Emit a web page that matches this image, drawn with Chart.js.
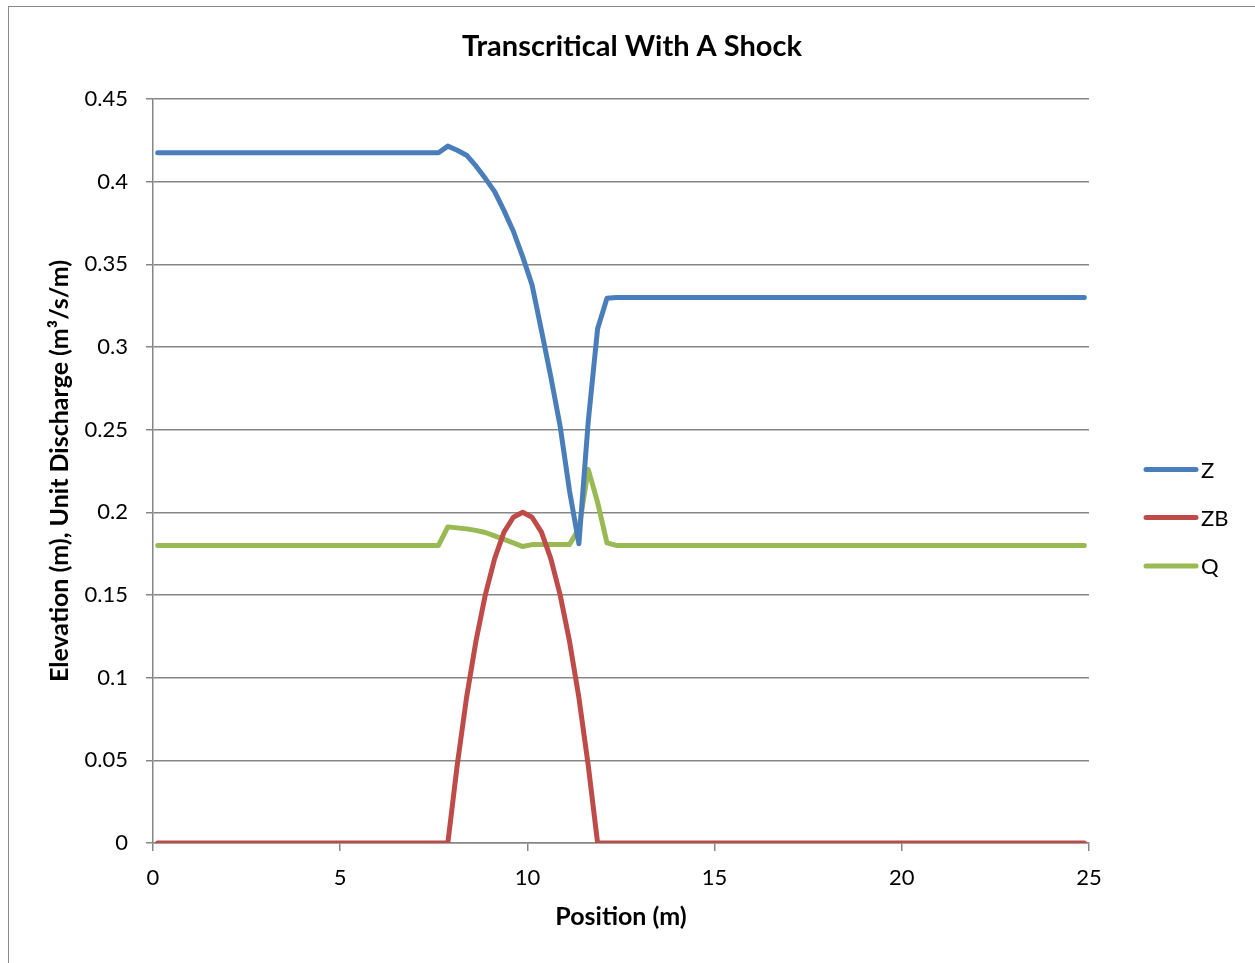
<!DOCTYPE html>
<html>
<head>
<meta charset="utf-8">
<title>Transcritical With A Shock</title>
<script src="https://cdn.jsdelivr.net/npm/chart.js@4.4.1/dist/chart.umd.min.js"></script>
<style>
  html, body { margin: 0; padding: 0; background: #ffffff; }
  #chart { display: block; }
</style>
</head>
<body>
<canvas id="chart" width="1255" height="963"></canvas>
<script>
// Free surface elevation Z, bed elevation ZB and unit discharge Q along the channel.
const zPosition = [0.125, 7.625, 7.875, 8.125, 8.375, 8.625, 8.875, 9.125, 9.375, 9.625, 9.875,
                   10.125, 10.375, 10.625, 10.875, 11.125, 11.375, 11.625, 11.875, 12.125, 12.375, 24.875];
const zValues   = [0.4175, 0.4175, 0.4215, 0.4190, 0.4160, 0.4095, 0.4020, 0.3940, 0.3825, 0.3700, 0.3545,
                   0.3375, 0.3100, 0.2820, 0.2520, 0.2130, 0.1810, 0.2550, 0.3110, 0.3295, 0.3300, 0.3300];

const zbPosition = [0.125, 7.875, 8.125, 8.375, 8.625, 8.875, 9.125, 9.375, 9.625, 9.875,
                    10.125, 10.375, 10.625, 10.875, 11.125, 11.375, 11.625, 11.875, 24.875];
const zbValues   = [0, 0, 0.047, 0.088, 0.122, 0.150, 0.172, 0.188, 0.197, 0.200,
                    0.197, 0.188, 0.172, 0.150, 0.122, 0.088, 0.047, 0, 0];

const qPosition = [0.125, 7.625, 7.875, 8.125, 8.375, 8.625, 8.875, 9.125, 9.375, 9.625, 9.875,
                   10.125, 11.125, 11.375, 11.625, 11.875, 12.125, 12.375, 24.875];
const qValues   = [0.180, 0.180, 0.1912, 0.1906, 0.1900, 0.1891, 0.1878, 0.1858, 0.1836, 0.1815, 0.1793,
                   0.1805, 0.1805, 0.1900, 0.2260, 0.2060, 0.1815, 0.1800, 0.180];

const xTicks = [0, 5, 10, 15, 20, 25];
const yTicks = [0, 0.05, 0.1, 0.15, 0.2, 0.25, 0.3, 0.35, 0.4, 0.45];

const seriesNames  = ['Z', 'ZB', 'Q'];
const seriesColors = ['#4A7EBB', '#BE4B48', '#98B954'];
const chartTitle = 'Transcritical With A Shock';

const FONT = 'Lato, "Open Sans", "Liberation Sans", sans-serif';
const GRID = '#868686';

function pairs(xs, ys) {
  return xs.map((x, i) => ({ x: x, y: ys[i] }));
}

// Title centred on the whole figure, above the plot.
const figureTitle = {
  id: 'figureTitle',
  afterDraw(chart) {
    const ctx = chart.ctx;
    ctx.save();
    ctx.fillStyle = '#000';
    ctx.font = 'bold 29px ' + FONT;
    ctx.textAlign = 'center';
    ctx.textBaseline = 'middle';
    ctx.fillText(chartTitle, 632, 47);
    ctx.restore();
  }
};

// Vertical legend on the right with short line swatches.
const lineLegend = {
  id: 'lineLegend',
  afterDraw(chart) {
    const ctx = chart.ctx;
    const rows = [469.5, 517.5, 566];
    ctx.save();
    chart.data.datasets.forEach((ds, i) => {
      const y = rows[i];
      ctx.beginPath();
      ctx.strokeStyle = ds.borderColor;
      ctx.lineWidth = 5;
      ctx.lineCap = 'round';
      ctx.moveTo(1146, y);
      ctx.lineTo(1196, y);
      ctx.stroke();
      ctx.fillStyle = '#000';
      ctx.font = '22px ' + FONT;
      ctx.textAlign = 'left';
      ctx.textBaseline = 'middle';
      ctx.fillText(ds.label, 1201, y + 1);
    });
    ctx.restore();
  }
};

// Thin frame around the whole chart.
const chartFrame = {
  id: 'chartFrame',
  afterDraw(chart) {
    const ctx = chart.ctx;
    ctx.save();
    ctx.strokeStyle = '#8a8a8a';
    ctx.lineWidth = 1;
    ctx.strokeRect(8.5, 6.5, 1400, 1100);
    ctx.restore();
  }
};

new Chart(document.getElementById('chart'), {
  type: 'scatter',
  data: {
    datasets: [
      { label: seriesNames[0], data: pairs(zPosition, zValues),   borderColor: seriesColors[0], backgroundColor: seriesColors[0] },
      { label: seriesNames[1], data: pairs(zbPosition, zbValues), borderColor: seriesColors[1], backgroundColor: seriesColors[1] },
      { label: seriesNames[2], data: pairs(qPosition, qValues),   borderColor: seriesColors[2], backgroundColor: seriesColors[2] }
    ]
  },
  options: {
    responsive: false,
    animation: false,
    devicePixelRatio: 1,
    showLine: true,
    layout: { padding: { left: 0, right: 166, top: 99, bottom: 0 } },
    elements: {
      point: { radius: 0, hoverRadius: 0 },
      line: { borderWidth: 5, tension: 0, borderCapStyle: 'round', borderJoinStyle: 'round', fill: false }
    },
    plugins: {
      legend: { display: false },
      tooltip: { enabled: false },
      title: { display: false }
    },
    scales: {
      x: {
        type: 'linear',
        min: 0,
        max: 25,
        afterBuildTicks(scale) { scale.ticks = xTicks.map(v => ({ value: v })); },
        afterFit(scale) { scale.height = 120; },
        ticks: {
          color: '#000',
          font: { family: FONT, size: 22 },
          padding: 14,
          maxRotation: 0,
          callback: v => String(v)
        },
        grid: { drawOnChartArea: false, drawTicks: true, tickLength: 8, color: GRID, lineWidth: 1.5 },
        border: { display: true, color: GRID, width: 1.5 },
        title: {
          display: true,
          text: 'Position (m)',
          color: '#000',
          font: { family: FONT, size: 25, weight: 'bold', lineHeight: 1.2 },
          padding: { top: 0, bottom: 31 }
        }
      },
      y: {
        type: 'linear',
        min: 0,
        max: 0.45,
        afterBuildTicks(scale) { scale.ticks = yTicks.map(v => ({ value: v })); },
        afterFit(scale) { scale.width = 153; },
        ticks: {
          color: '#000',
          font: { family: FONT, size: 22 },
          padding: 18,
          callback: v => String(Math.round(v * 100) / 100)
        },
        grid: { color: GRID, lineWidth: 1.5, drawTicks: true, tickLength: 7 },
        border: { display: true, color: GRID, width: 1.5 },
        title: {
          display: true,
          text: 'Elevation (m), Unit Discharge (m³/s/m)',
          color: '#000',
          font: { family: FONT, size: 25, weight: 'bold', lineHeight: 1.2 },
          padding: { top: 45, bottom: 0 }
        }
      }
    }
  },
  plugins: [figureTitle, lineLegend, chartFrame]
});
</script>
</body>
</html>
